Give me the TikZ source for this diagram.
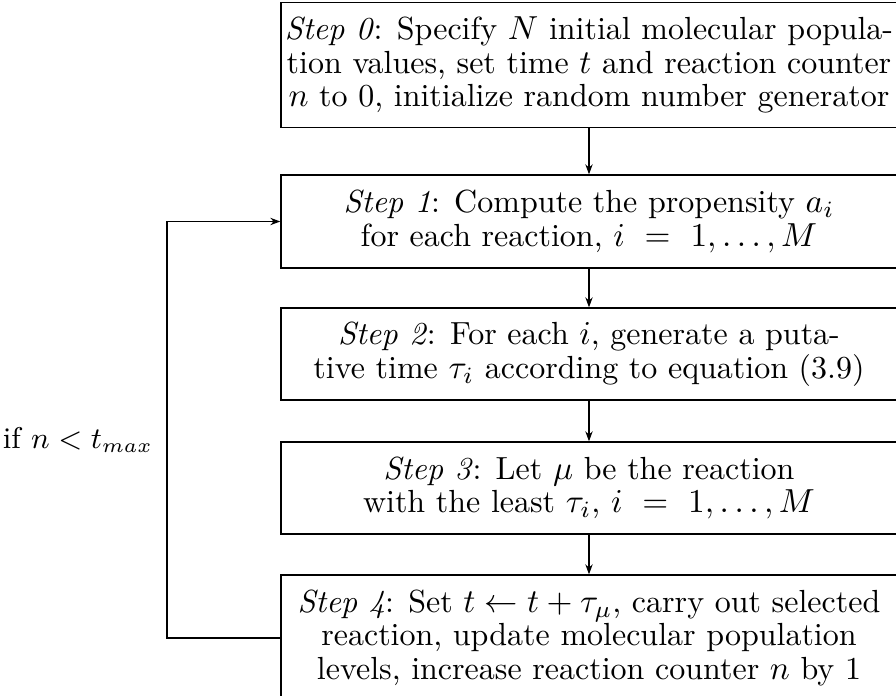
\documentclass[tikz,border=0pt]{standalone}
\usetikzlibrary{arrows.meta}
\begin{document}
\begin{tikzpicture}[x=0.3pt,y=-0.3pt,
  stepbox/.style={draw, rectangle, align=center, inner xsep=0.5pt, inner ysep=1pt,
    minimum width=184.8pt, font=\fontsize{9.6pt}{10.1pt}\selectfont},
  arr/.style={-{Stealth[length=3pt,width=2.2pt]}, line width=0.4pt},
  lbl/.style={font=\fontsize{9pt}{10pt}\selectfont, inner sep=1pt}]
\useasboundingbox (0,0) rectangle (896,696);
\begin{scope}
\clip (0,0) rectangle (896,696);
\node[stepbox, minimum height=37.5pt] (b0) at (589,65)
  {\textit{Step 0}: Specify $N$ initial molecular popula-\\tion values, set time $t$ and reaction counter\\$n$ to 0, initialize random number generator};
\node[stepbox, minimum height=27.9pt] (b1) at (589,221.5)
  {\textit{Step 1}: Compute the propensity $a_i$\\for each reaction, $i\ =\ 1,\ldots,M$};
\node[stepbox, minimum height=27.6pt] (b2) at (589,354)
  {\textit{Step 2}: For each $i$, generate a puta-\\tive time $\tau_i$ according to equation (3.9)};
\node[stepbox, minimum height=27.6pt] (b3) at (589,488)
  {\textit{Step 3}: Let $\mu$ be the reaction\\with the least $\tau_i$, $i\ =\ 1,\ldots,M$};
\node[stepbox, minimum height=37.8pt] (b4) at (589,638)
  {\textit{Step 4}: Set $t \leftarrow t + \tau_\mu$, carry out selected\\reaction, update molecular population\\levels, increase reaction counter $n$ by 1};
\draw[arr] (b0) -- (b1);
\draw[arr] (b1) -- (b2);
\draw[arr] (b2) -- (b3);
\draw[arr] (b3) -- (b4);
\coordinate (c1) at (167,638);
\coordinate (c2) at (167,221.5);
\draw[arr] (b4.west) -- (c1) -- (c2) -- (b1.west);
\node[lbl, anchor=east] (cond) at (157,440) {if $n < t_{max}$};
\end{scope}
\end{tikzpicture}
\end{document}
